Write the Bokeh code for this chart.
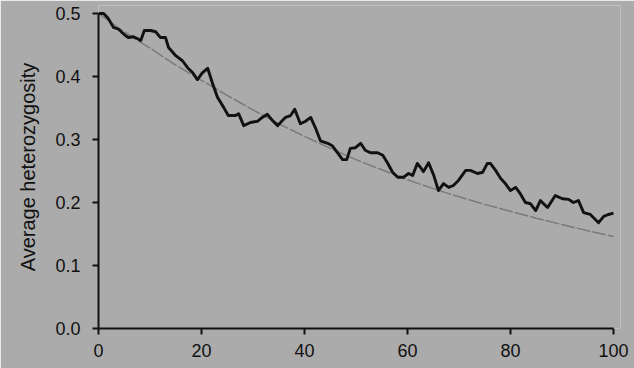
from bokeh.plotting import figure
from bokeh.models import Range1d, FixedTicker
from bokeh.embed import file_html
from bokeh.resources import INLINE

generation = [0, 1.0, 1.9, 2.9, 3.9, 5.2, 5.8, 6.8, 7.6, 8.2, 8.9, 10.1, 11.1, 12.0, 13.0,
              13.6, 15.0, 16.3, 17.3, 18.3, 19.2, 20.2, 21.2, 22.1, 23.1, 24.3, 25.2, 26.6,
              27.2, 28.2, 29.5, 30.9, 31.8, 32.8, 33.8, 34.8, 35.7, 36.3, 37.3, 38.1, 39.2,
              40.2, 41.2, 42.1, 43.1, 44.5, 45.4, 46.4, 47.4, 48.2, 48.9, 49.9, 50.9, 51.8,
              52.8, 54.2, 55.2, 56.1, 57.1, 58.1, 59.2, 60.2, 61.0, 61.9, 62.5, 63.1, 64.1,
              65.1, 66.0, 67.0, 68.0, 68.9, 69.9, 71.3, 72.2, 73.6, 74.6, 75.5, 76.1, 77.1,
              78.1, 79.0, 80.0, 81.0, 81.9, 82.9, 83.9, 84.9, 85.8, 87.2, 88.7, 90.1, 91.3,
              92.2, 93.2, 94.2, 95.5, 97.1, 98.1, 99.0, 100.0]
heterozygosity = [0.500, 0.500, 0.492, 0.478, 0.475, 0.465, 0.462, 0.463, 0.460, 0.457, 0.473,
                  0.473, 0.471, 0.462, 0.462, 0.446, 0.433, 0.425, 0.414, 0.406, 0.395, 0.406,
                  0.413, 0.390, 0.367, 0.351, 0.338, 0.338, 0.341, 0.322, 0.327, 0.329, 0.335,
                  0.340, 0.330, 0.322, 0.330, 0.335, 0.338, 0.348, 0.325, 0.329, 0.335, 0.319,
                  0.298, 0.294, 0.290, 0.279, 0.268, 0.268, 0.286, 0.287, 0.294, 0.283, 0.279,
                  0.279, 0.275, 0.263, 0.248, 0.240, 0.240, 0.246, 0.243, 0.262, 0.256, 0.249,
                  0.263, 0.243, 0.219, 0.230, 0.224, 0.227, 0.235, 0.251, 0.251, 0.246, 0.248,
                  0.262, 0.262, 0.251, 0.238, 0.230, 0.219, 0.224, 0.214, 0.200, 0.198, 0.187,
                  0.203, 0.192, 0.211, 0.206, 0.205, 0.200, 0.203, 0.184, 0.181, 0.168, 0.178,
                  0.181, 0.183]

# Expected heterozygosity curve
expected_generation = [0, 5, 10, 15, 20, 25, 30, 35, 40, 45, 50, 55, 60, 65, 70, 75, 80, 85,
                       90, 95, 100]
expected_heterozygosity = [0.500, 0.471, 0.445, 0.418, 0.394, 0.370, 0.347, 0.325, 0.305,
                           0.286, 0.268, 0.252, 0.236, 0.222, 0.209, 0.197, 0.186, 0.175,
                           0.165, 0.155, 0.146]

x_ticks = [0, 20, 40, 60, 80, 100]
y_ticks = [0.0, 0.1, 0.2, 0.3, 0.4, 0.5]
y_tick_labels = ["0.0", "0.1", "0.2", "0.3", "0.4", "0.5"]

BG = "#ababab"
FONT = "Liberation Sans"

p = figure(width=634, height=368, output_backend="svg", toolbar_location=None,
           x_range=Range1d(0, 101.36), y_range=Range1d(0, 0.5127),
           min_border_left=98, min_border_right=14, min_border_top=5, min_border_bottom=40)
p.background_fill_color = BG
p.border_fill_color = BG
p.outline_line_color = None
p.grid.visible = False

p.line(expected_generation, expected_heterozygosity, line_color="#7a7a7a", line_width=1.5,
       line_dash="14 2")
p.line(generation, heterozygosity, line_color="#111111", line_width=2.9, line_join="round")

for ax in (p.xaxis[0], p.yaxis[0]):
    ax.axis_line_width = 2
    ax.axis_line_color = "#111111"
    ax.major_tick_line_width = 2
    ax.major_tick_line_color = "#111111"
    ax.major_tick_in = 0
    ax.major_tick_out = 6
    ax.minor_tick_line_color = None
    ax.major_label_text_font = FONT
    ax.major_label_text_font_size = "18px"
    ax.major_label_text_color = "#111111"

p.xaxis.ticker = FixedTicker(ticks=x_ticks)
p.xaxis.bounds = (0, 100)
p.xaxis.major_label_standoff = 9

p.yaxis.ticker = FixedTicker(ticks=y_ticks)
p.yaxis.major_label_overrides = {t: l for t, l in zip(y_ticks, y_tick_labels)}
p.yaxis.bounds = (0, 0.5)
p.yaxis.major_label_standoff = 12
p.yaxis.axis_label = "Average heterozygosity"
p.yaxis.axis_label_text_font = FONT
p.yaxis.axis_label_text_font_size = "20px"
p.yaxis.axis_label_text_font_style = "normal"
p.yaxis.axis_label_text_color = "#111111"
p.yaxis.axis_label_standoff = 13

open("out.html", "w").write(file_html(p, INLINE))
